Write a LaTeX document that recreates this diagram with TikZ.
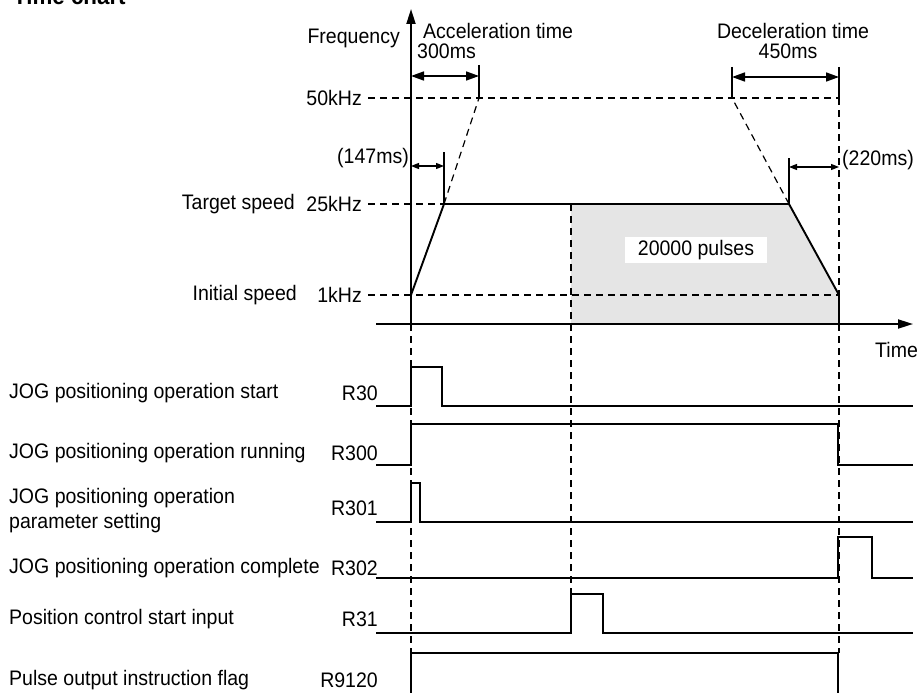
\documentclass[tikz,border=0pt]{standalone}
\usepackage{fontspec}
\setmainfont[FakeStretch=0.93]{Liberation Sans}
\usetikzlibrary{arrows.meta, positioning, calc}

\begin{document}
\begin{tikzpicture}[x=1pt, y=-1pt,
    lbl/.style={font=\fontsize{21}{22}\selectfont, inner sep=0pt},
    sig/.style={line width=1.9pt},
    guide/.style={dash pattern=on 7pt off 5pt, line width=1.2pt},
    axis/.style={-{Triangle[length=15pt, width=9pt]}, line width=1.9pt},
    dim/.style={{Triangle[length=13pt, width=9pt]}-{Triangle[length=13pt, width=9pt]}, line width=1.7pt},
    smalldim/.style={{Triangle[length=8pt, width=6pt]}-{Triangle[length=8pt, width=6pt]}, line width=1.3pt},
    tickline/.style={line width=1.1pt}
]
\useasboundingbox (0,0) rectangle (918,693);

% Speed profile points
\coordinate (o)     at (411,324);
\coordinate (ftop)  at (411,9);
\coordinate (tbeg)  at (376,324);
\coordinate (tend)  at (913,324);
\coordinate (p0)    at (411,295);
\coordinate (p1)    at (444,204);
\coordinate (p2)    at (789,204);
\coordinate (p3)    at (839,295);
\coordinate (p4)    at (839,324);
\coordinate (a50)   at (479,98);
\coordinate (d50)   at (732,98);
\coordinate (start) at (571,204);

\fill[gray!20] (start) -- (p2) -- (p3) -- (p4) -- (571,324) -- cycle;

% Guides
\draw[guide] (368,98) -- (839,98);
\draw[guide] (368,204) -- (p1);
\draw[guide] (368,295) -- (p3);
\draw[guide] (p1) -- (a50);
\draw[guide] (p2) -- (d50);
\draw[guide] (839,98) -- (p3);
\draw[guide] (p4) -- (839,653);
\draw[guide] (o) -- (411,653);
\draw[guide] (start) -- (571,594);

% Times
\draw[tickline] (479,65) -- (a50);
\draw[dim] (411,76) -- (479,76);
\draw[tickline] (732,67) -- (d50);
\draw[tickline] (839,67) -- (839,98);
\draw[dim] (732,77) -- (839,77);
\draw[tickline] (444,152) -- (p1);
\draw[smalldim] (411,166) -- (444,166);
\draw[tickline] (789,158) -- (p2);
\draw[smalldim] (789,167) -- (839,167);

\draw[sig] (p0) -- (p1) -- (p2) -- (p3) -- (p4);
\draw[axis] (o) -- (ftop);
\draw[axis] (tbeg) -- (tend);

\node[font=\bfseries\fontsize{24}{24}\selectfont, anchor=base west, inner sep=0pt] (title) at (13,5) {Time chart};
\node[lbl, anchor=east] (freq) at (400,38) {Frequency};
\node[lbl, anchor=base west] (acc) at (423,39) {Acceleration time};
\node[lbl, anchor=base west] (accms) at (417,59) {300ms};
\node[lbl, anchor=base] (dec) at (793,39) {Deceleration time};
\node[lbl, anchor=base] (decms) at (788,59) {450ms};
\node[lbl, anchor=east] (f50) at (362,98) {50kHz};
\node[lbl, anchor=east] (f25) at (362,204) {25kHz};
\node[lbl, anchor=east] (f1) at (362,295) {1kHz};
\node[lbl, anchor=east] (target) at (295,204) {Target speed};
\node[lbl, anchor=east] (initial) at (297,295) {Initial speed};
\node[lbl, anchor=east] (t147) at (409,158) {(147ms)};
\node[lbl, anchor=west] (t220) at (842,160) {(220ms)};
\node[lbl, anchor=west] (time) at (875,350) {Time};
\node[lbl, fill=white, minimum width=142pt, minimum height=26pt] (pulses) at (696,250) {20000 pulses};

% Signals
\node[lbl, anchor=west] (s30) at (9,393) {JOG positioning operation start};
\node[lbl, anchor=west] (s300) at (9,453) {JOG positioning operation running};
\node[lbl, anchor=west, align=left, font=\fontsize{21}{25}\selectfont] (s301) at (9,511) {JOG positioning operation\\parameter setting};
\node[lbl, anchor=west] (s302) at (9,568) {JOG positioning operation complete};
\node[lbl, anchor=west] (s31) at (9,619) {Position control start input};
\node[lbl, anchor=west] (s9120) at (9,680) {Pulse output instruction flag};

\node[lbl, anchor=east] (r30) at (378,393) {R30};
\node[lbl, anchor=east] (r300) at (378,453) {R300};
\node[lbl, anchor=east] (r301) at (378,508) {R301};
\node[lbl, anchor=east] (r302) at (378,568) {R302};
\node[lbl, anchor=east] (r31) at (378,619) {R31};
\node[lbl, anchor=east] (r9120) at (378,680) {R9120};

\draw[sig] (376,406) -- (411,406) -- (411,367) -- (442,367) -- (442,406) -- (913,406);
\draw[sig] (376,465) -- (411,465) -- (411,424) -- (838,424) -- (838,465) -- (913,465);
\draw[sig] (376,522) -- (411,522) -- (411,483) -- (420,483) -- (420,522) -- (913,522);
\draw[sig] (376,578) -- (838,578) -- (838,537) -- (872,537) -- (872,578) -- (913,578);
\draw[sig] (376,633) -- (571,633) -- (571,594) -- (603,594) -- (603,633) -- (913,633);
\draw[sig] (411,693) -- (411,653) -- (838,653) -- (838,693);

\end{tikzpicture}
\end{document}
